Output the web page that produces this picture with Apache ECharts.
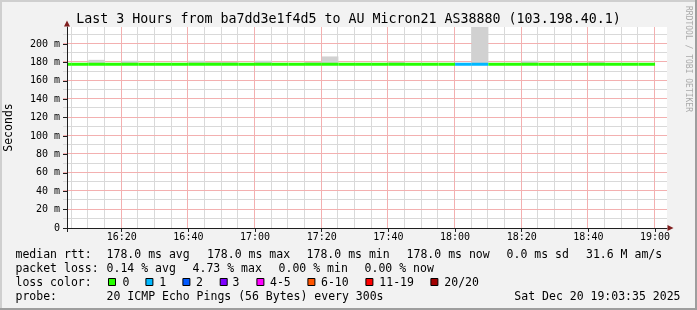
<!DOCTYPE html>
<html><head><meta charset="utf-8">
<script src="https://cdn.jsdelivr.net/npm/echarts@6/dist/echarts.min.js"></script>
<style>html,body{margin:0;padding:0;background:#f2f2f2}#c{width:697px;height:310px}</style>
</head><body><div id="c"></div>
<script>
// ---------------- data ----------------
const titleText = 'Last 3 Hours from ba7dd3e1f4d5 to AU Micron21 AS38880 (103.198.40.1)';
const endTime = '19:03:35';
const spanMinutes = 180;
const stepMinutes = 5;
const stepStarts = ['16:00','16:05','16:10','16:15','16:20','16:25','16:30','16:35','16:40','16:45','16:50','16:55',
                    '17:00','17:05','17:10','17:15','17:20','17:25','17:30','17:35','17:40','17:45','17:50','17:55',
                    '18:00','18:05','18:10','18:15','18:20','18:25','18:30','18:35','18:40','18:45','18:50','18:55'];
const medianMs = [178,178,178,178,178,178,178,178,178,178,178,178,
                  178,178,178,178,178,178,178,178,178,178,178,178,
                  178,178,178,178,178,178,178,178,178,178,178,178];
const lostPings = [0,0,0,0,0,0,0,0,0,0,0,0,
                   0,0,0,0,0,0,0,0,0,0,0,0,
                   1,1,0,0,0,0,0,0,0,0,0,0];
const smokeLowMs = [null,null,177.5,null,177.5,null,null,null,177.5,177.5,177.5,null,
                    177.5,null,null,177.5,177.5,null,null,null,177.5,null,null,null,
                    null,177.5,null,null,177.5,null,null,null,177.5,null,null,null];
const smokeHighMs = [null,null,182.8,null,181.8,null,null,null,181.8,180.4,180.4,null,
                     181.8,null,null,180.4,186.5,null,null,null,180.4,null,null,null,
                     null,250,null,null,181.8,null,null,null,180.4,null,null,null];
const xTickLabels = ['16:20','16:40','17:00','17:20','17:40','18:00','18:20','18:40','19:00'];
const yTickValues = [0,20,40,60,80,100,120,140,160,180,200];
const yMinorValues = [10,30,50,70,90,110,130,150,170,190,210];
const yMaxMs = 218.5;

const medianStats = ['178.0 ms avg','178.0 ms max','178.0 ms min','178.0 ms now','0.0 ms sd','31.6 M am/s'];
const lossStats = ['0.14 % avg','4.73 % max','0.00 % min','0.00 % now'];
const lossLabels = ['0','1','2','3','4-5','6-10','11-19','20/20'];
const lossMaxCount = [0,1,2,3,5,10,19,20];
const lossColors = ['#26ff00','#00b8ff','#0059ff','#7e00ff','#ff00ff','#ff5500','#ff0000','#a10000'];
const probeText = '20 ICMP Echo Pings (56 Bytes) every 300s';
const dateText = 'Sat Dec 20 19:03:35 2025';
const creditText = 'RRDTOOL / TOBI OETIKER';

// ---------------- layout ----------------
const FONT = 'DejaVu Sans Mono';
const row1X = [106.6, 207.0, 306.6, 406.6, 506.6, 586.0];
const row2X = [106.6, 192.6, 278.6, 364.6];
const boxX = [108.5, 145.9, 182.9, 220.2, 256.9, 307.9, 365.9, 430.9];
const boxLabelX = [122.6, 159.3, 196.0, 232.6, 270.0, 321.0, 379.3, 444.3];
const rowY = [255.4, 269.1, 282.9, 296.7];

function toMin(s){ const p = s.split(':').map(Number); return p[0]*60 + p[1] + (p[2]||0)/60; }
function fmt(m){ m = Math.round(m); const h = Math.floor(m/60), mm = m % 60; return String(h).padStart(2,'0') + ':' + String(mm).padStart(2,'0'); }
function lossColor(n){ for (let i = 0; i < lossMaxCount.length; i++) if (n <= lossMaxCount[i]) return lossColors[i]; return lossColors[lossColors.length-1]; }

const xMax = toMin(endTime), xMin = xMax - spanMinutes;
const xMajor = xTickLabels.map(toMin);
const xMinor = [];
for (let m = Math.ceil(xMin/5)*5; m <= xMax; m += 5) if (xMajor.indexOf(m) < 0) xMinor.push(m);

const smokeData = [];
stepStarts.forEach((s,i) => { if (smokeHighMs[i] != null) smokeData.push([toMin(s), toMin(s)+stepMinutes, smokeLowMs[i], smokeHighMs[i]]); });
const medianData = stepStarts.map((s,i) => [toMin(s), toMin(s)+stepMinutes, medianMs[i], lostPings[i]]);

function clampX(v, cs){ return Math.max(cs.x, Math.min(cs.x + cs.width, v)); }
function clampY(v, cs){ return Math.max(cs.y, Math.min(cs.y + cs.height, v)); }
const GRID_MINOR = '#d9d9d9', GRID_MAJOR = '#f3b0b0';

function gridSeries(name, data, vertical, color){
  return {type:'custom', name, xAxisIndex:0, yAxisIndex:0, z:1, silent:true,
    encode:{x:0, y:1}, data,
    renderItem(params, api){
      const cs = params.coordSys;
      const p = api.coord([api.value(0), api.value(1)]);
      if (vertical) {
        const x = Math.round(p[0]) - 0.5;
        return {type:'line', shape:{x1:x, y1:cs.y, x2:x, y2:cs.y + cs.height}, style:{stroke:color, lineWidth:1}};
      }
      const y = Math.round(p[1]) - 0.5;
      return {type:'line', shape:{x1:cs.x - 4, y1:y, x2:cs.x + cs.width, y2:y}, style:{stroke:color, lineWidth:1}};
    }};
}

const textStyleBase = {fontFamily: FONT, fontSize: 11.5, fill: '#000'};
const graphics = [];
graphics.push({type:'rect', shape:{x:0,y:0,width:697,height:2}, style:{fill:'#cfcfcf'}, silent:true});
graphics.push({type:'rect', shape:{x:0,y:0,width:2,height:310}, style:{fill:'#cfcfcf'}, silent:true});
graphics.push({type:'rect', shape:{x:695,y:0,width:2,height:310}, style:{fill:'#9e9e9e'}, silent:true});
graphics.push({type:'rect', shape:{x:0,y:308,width:697,height:2}, style:{fill:'#9e9e9e'}, silent:true});
graphics.push({type:'text', x:348.5, y:19.8, style:{text:titleText, fontFamily:FONT, fontSize:13.3, fill:'#000', align:'center', verticalAlign:'middle'}});
graphics.push({type:'text', x:9.5, y:127.5, rotation:Math.PI/2, style:Object.assign({text:'Seconds', align:'center', verticalAlign:'middle'}, textStyleBase)});
graphics.push({type:'text', x:688, y:59, rotation:-Math.PI/2, style:{text:creditText, fontFamily:FONT, fontSize:8, fill:'#aaaaaa', align:'center', verticalAlign:'middle'}});
const rowHeads = ['median rtt:','packet loss:','loss color:','probe:'];
rowHeads.forEach((t,i) => graphics.push({type:'text', x:15.5, y:rowY[i], style:Object.assign({text:t, align:'left', verticalAlign:'middle'}, textStyleBase)}));
medianStats.forEach((t,i) => graphics.push({type:'text', x:row1X[i], y:rowY[0], style:Object.assign({text:t, align:'left', verticalAlign:'middle'}, textStyleBase)}));
lossStats.forEach((t,i) => graphics.push({type:'text', x:row2X[i], y:rowY[1], style:Object.assign({text:t, align:'left', verticalAlign:'middle'}, textStyleBase)}));
lossLabels.forEach((t,i) => {
  graphics.push({type:'rect', shape:{x:boxX[i], y:278.5, width:7, height:7}, style:{fill:lossColors[i], stroke:'#000', lineWidth:1}});
  graphics.push({type:'text', x:boxLabelX[i], y:rowY[2], style:Object.assign({text:t, align:'left', verticalAlign:'middle'}, textStyleBase)});
});
graphics.push({type:'text', x:106.6, y:rowY[3], style:Object.assign({text:probeText, align:'left', verticalAlign:'middle'}, textStyleBase)});
graphics.push({type:'text', x:680.5, y:rowY[3], style:Object.assign({text:dateText, align:'right', verticalAlign:'middle'}, textStyleBase)});

const axisLabelStyle = {fontFamily: FONT, fontSize: 10, color: '#000'};

const option = {
  animation: false,
  backgroundColor: '#f2f2f2',
  grid: {left:67, right:30, top:27, bottom:82, show:true, backgroundColor:'#ffffff', borderWidth:0},
  xAxis: [
    {type:'value', min:xMin, max:xMax, position:'bottom', gridIndex:0, z:5,
     axisLine:{show:true, onZero:false, lineStyle:{color:'#1f1f1f', width:1}},
     axisTick:{show:true, customValues:[xMin].concat(xMajor), length:4, lineStyle:{color:'#1f1f1f'}},
     axisLabel:{show:true, customValues:xMajor, formatter:fmt, margin:4, ...axisLabelStyle},
     splitLine:{show:false}},
    {type:'value', min:xMin, max:xMax, position:'bottom', gridIndex:0, z:5,
     axisLine:{show:true, onZero:false, symbol:['none','triangle'], symbolSize:[6,6], symbolOffset:[0,3.5], lineStyle:{color:'#801f1f', width:0}},
     axisTick:{show:false}, axisLabel:{show:false}, splitLine:{show:false}}
  ],
  yAxis: [
    {type:'value', min:0, max:yMaxMs, position:'left', gridIndex:0, z:5,
     axisLine:{show:true, onZero:false, lineStyle:{color:'#1f1f1f', width:1}},
     axisTick:{show:true, customValues:yTickValues, length:4, lineStyle:{color:'#1f1f1f'}},
     axisLabel:{show:true, customValues:yTickValues, formatter:v => v === 0 ? '0' : v + ' m', margin:7, ...axisLabelStyle},
     splitLine:{show:false}},
    {type:'value', min:0, max:yMaxMs, position:'left', gridIndex:0, z:5,
     axisLine:{show:true, onZero:false, symbol:['none','triangle'], symbolSize:[6,6], symbolOffset:[0,3.5], lineStyle:{color:'#801f1f', width:0}},
     axisTick:{show:false}, axisLabel:{show:false}, splitLine:{show:false}}
  ],
  series: [
    gridSeries('minor v', xMinor.map(v => [v, 0]), true, GRID_MINOR),
    gridSeries('minor h', yMinorValues.map(v => [xMin, v]), false, GRID_MINOR),
    gridSeries('major v', xMajor.map(v => [v, 0]), true, GRID_MAJOR),
    gridSeries('major h', yTickValues.filter(v => v > 0).map(v => [xMin, v]), false, GRID_MAJOR),
    {type:'custom', name:'smoke', xAxisIndex:0, yAxisIndex:0, z:2, silent:true,
     encode:{x:[0,1], y:[2,3]}, data: smokeData,
     renderItem(params, api){
       const cs = params.coordSys;
       const a = api.coord([api.value(0), api.value(3)]);
       const b = api.coord([api.value(1), api.value(2)]);
       const x1 = clampX(a[0], cs), x2 = clampX(b[0], cs);
       const y1 = clampY(a[1], cs), y2 = clampY(b[1], cs);
       return {type:'rect', shape:{x:x1, y:y1, width:x2-x1, height:y2-y1}, style:{fill:'#d1d1d1'}};
     }},
    {type:'custom', name:'median rtt', xAxisIndex:0, yAxisIndex:0, z:3, silent:true,
     encode:{x:[0,1], y:2}, data: medianData,
     renderItem(params, api){
       const cs = params.coordSys;
       const a = api.coord([api.value(0), api.value(2)]);
       const b = api.coord([api.value(1), api.value(2)]);
       return {type:'line', shape:{x1:clampX(a[0],cs), y1:a[1], x2:clampX(b[0],cs), y2:b[1]},
               style:{stroke:lossColor(api.value(3)), lineWidth:3, lineCap:'butt'}};
     }}
  ],
  graphic: graphics
};
const chart = echarts.init(document.getElementById('c'), null, {renderer:'canvas', width:697, height:310});
chart.setOption(option);
</script></body></html>
